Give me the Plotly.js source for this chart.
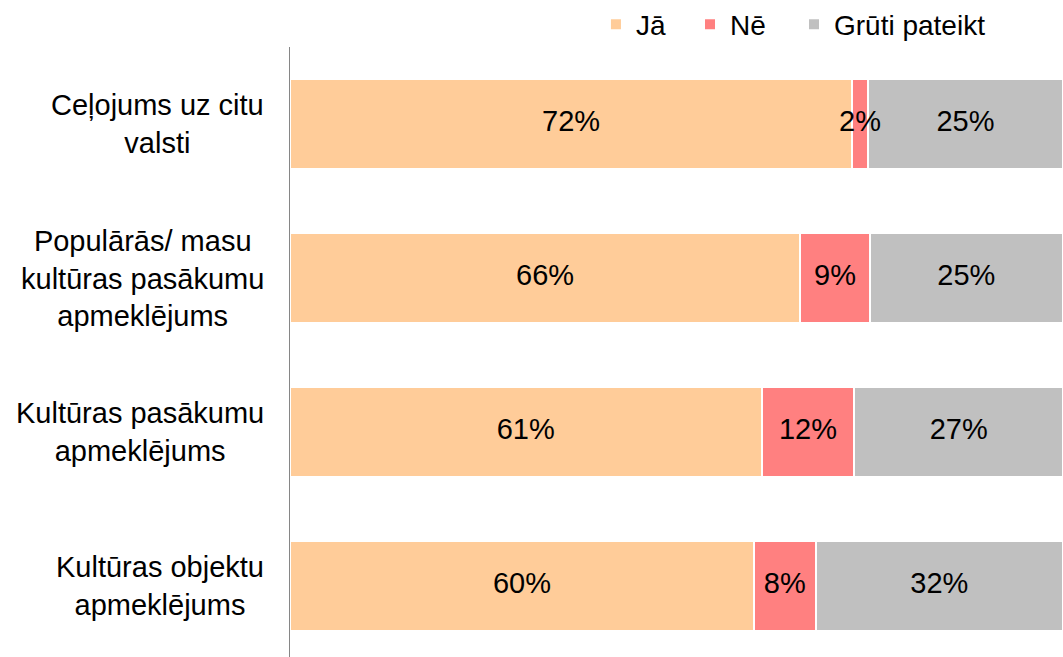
<!DOCTYPE html>
<html>
<head>
<meta charset="utf-8">
<script src="https://cdn.plot.ly/plotly-3.0.1.min.js"></script>
<style>html,body{margin:0;padding:0;background:#fff;}#chart{width:1063px;height:657px;}</style>
</head>
<body>
<div id="chart"></div>
<script>
const categories = [
  "Ceļojums uz citu<br>valsti",
  "Populārās/ masu<br>kultūras pasākumu<br>apmeklējums",
  "Kultūras pasākumu<br>apmeklējums",
  "Kultūras objektu<br>apmeklējums"
];
const seriesNames = ["Jā", "Nē", "Grūti pateikt"];
const jaValues = [72, 66, 61, 60];
const neValues = [2, 9, 12, 8];
const grutiValues = [25, 25, 27, 32];
const colors = ["#FFCC99", "#FF8080", "#C0C0C0"];

const FONT = '"Liberation Sans", Arial, sans-serif';
const series = [jaValues, neValues, grutiValues];
const legendIds = ['legend', 'legend2', 'legend3'];
const legendX = [0.3958, 0.5175, 0.652];

const traces = series.map((vals, i) => ({
  type: 'bar',
  orientation: 'h',
  name: seriesNames[i],
  legend: legendIds[i],
  y: categories,
  x: vals,
  marker: {color: colors[i], line: {color: '#fff', width: 2}},
  hoverinfo: 'skip'
}));

// value labels on top of all bars (centre of each normalised segment)
const lx = [], ly = [], lt = [];
categories.forEach((c, r) => {
  const total = series.reduce((s, arr) => s + arr[r], 0);
  let cum = 0;
  series.forEach(arr => {
    const v = arr[r];
    lx.push((cum + v / 2) / total * 100);
    ly.push(c);
    lt.push(v + '%');
    cum += v;
  });
});
traces.push({
  type: 'scatter', mode: 'text',
  x: lx, y: ly, text: lt,
  textposition: 'middle center',
  textfont: {family: FONT, size: 29, color: '#000'},
  showlegend: false, hoverinfo: 'skip', cliponaxis: false
});

const annotations = categories.map(c => ({
  text: c,
  xref: 'paper', yref: 'y',
  x: -24/773, y: c,
  xanchor: 'right', yanchor: 'middle',
  align: 'center',
  showarrow: false,
  font: {family: FONT, size: 29, color: '#000'}
}));

const layout = {
  width: 1063, height: 657,
  margin: {l: 290, r: 0, t: 47, b: 0, pad: 0, autoexpand: false},
  barmode: 'stack',
  barnorm: 'percent',
  bargap: 0.42,
  paper_bgcolor: '#fff',
  plot_bgcolor: '#fff',
  font: {family: FONT, size: 28, color: '#000'},
  showlegend: true,
  xaxis: {range: [0, 100], showgrid: false, zeroline: false, showticklabels: false, ticks: '', showline: false, fixedrange: true},
  yaxis: {
    type: 'category',
    categoryorder: 'array', categoryarray: categories,
    range: [3.461, -0.5],
    showticklabels: false, ticks: '',
    showgrid: false, zeroline: false,
    showline: true, linecolor: '#868686', linewidth: 1.5,
    fixedrange: true
  },
  annotations: annotations
};
legendIds.forEach((id, i) => {
  layout[id] = {
    orientation: 'h',
    x: legendX[i], xanchor: 'left',
    y: 1.037, yanchor: 'middle',
    bgcolor: 'rgba(0,0,0,0)',
    font: {family: FONT, size: 28, color: '#000'}
  };
});

Plotly.newPlot('chart', traces, layout, {displayModeBar: false, staticPlot: true});
</script>
</body>
</html>
